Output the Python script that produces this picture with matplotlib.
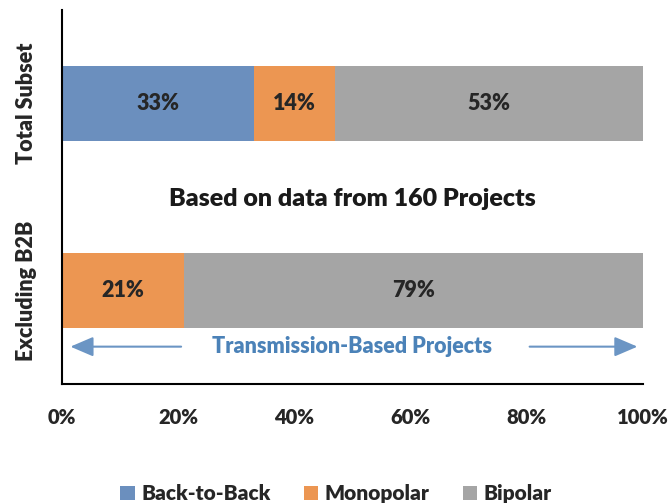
import matplotlib.pyplot as plt
import numpy as np

plt.rcParams['font.family'] = ['Lato', 'DejaVu Sans']
plt.rcParams['font.weight'] = 'bold'

groups = ['Excluding B2B', 'Total Subset']
series = ['Back-to-Back', 'Monopolar', 'Bipolar']
values = {
    'Back-to-Back': [0, 33],
    'Monopolar': [21, 14],
    'Bipolar': [79, 53],
}
colors = {'Back-to-Back': '#6b8fbe', 'Monopolar': '#ec9652', 'Bipolar': '#a5a5a5'}

fig = plt.figure(figsize=(6.72, 5.04), dpi=100)
ax = fig.add_axes([0.092, 0.238, 0.865, 0.742])

y = np.arange(len(groups))
left = np.zeros(len(groups))
for s in series:
    v = np.array(values[s], dtype=float)
    ax.barh(y, v, left=left, height=0.4, color=colors[s], label=s)
    for yi, li, vi in zip(y, left, v):
        if vi > 0:
            ax.text(li + vi / 2, yi, f'{vi:.0f}%', ha='center', va='center',
                    fontsize=15.5, fontweight='heavy', color='#262626')
    left += v

ax.set_xlim(0, 100)
ax.set_ylim(-0.5, 1.5)
ax.set_yticks(y)
ax.set_yticklabels(groups, rotation=90, va='center', fontsize=15.5, fontweight='heavy')
ax.set_xticks(np.arange(0, 101, 20))
ax.set_xticklabels([f'{t}%' for t in range(0, 101, 20)], fontsize=14.5, fontweight='heavy')
ax.tick_params(axis='both', length=0)
ax.tick_params(axis='x', pad=17, colors='#262626')
ax.tick_params(axis='y', pad=18, colors='#262626')
for sp in ['top', 'right']:
    ax.spines[sp].set_visible(False)
for sp in ['left', 'bottom']:
    ax.spines[sp].set_linewidth(1.5)

ax.text(50, 0.49, 'Based on data from 160 Projects', ha='center', va='center',
        fontsize=18, fontweight='heavy', color='#1a1a1a')

arrow_c = '#6b95c4'
ax.text(50, -0.30, 'Transmission-Based Projects', ha='center', va='center',
        fontsize=15.5, fontweight='heavy', color='#4b82b8')
ax.annotate('', xy=(1, -0.30), xytext=(21, -0.30),
            arrowprops=dict(arrowstyle='-|>,head_length=1.4,head_width=0.6', color=arrow_c, lw=1.5))
ax.annotate('', xy=(99.5, -0.30), xytext=(80, -0.30),
            arrowprops=dict(arrowstyle='-|>,head_length=1.4,head_width=0.6', color=arrow_c, lw=1.5))

leg = fig.legend(loc='center', bbox_to_anchor=(0.5, 0.02), ncol=3, frameon=False,
                 fontsize=15, handlelength=0.7, handleheight=0.7, handletextpad=0.3,
                 columnspacing=1.6)
for t in leg.get_texts():
    t.set_fontweight('heavy')
    t.set_color('#262626')

fig.savefig('out.png', dpi=100)
